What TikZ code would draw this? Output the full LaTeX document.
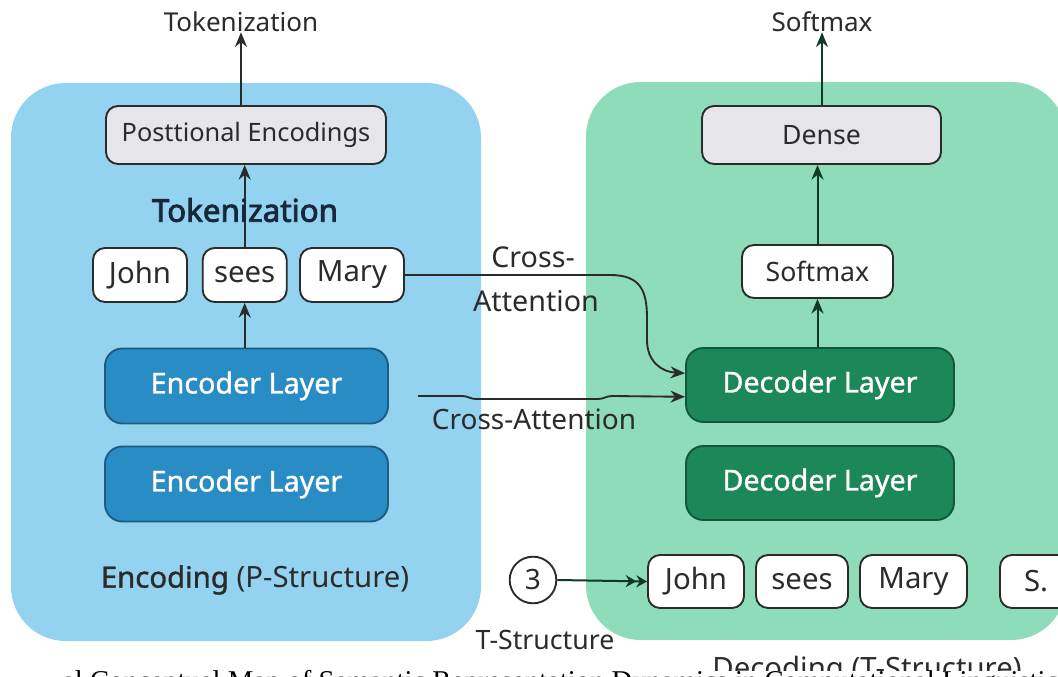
\documentclass[tikz,border=0pt]{standalone}
\usepackage{fontspec}
\setmainfont{Noto Sans}
\newfontfamily\capfont{Liberation Serif}
\newfontfamily\medfont{Noto Sans}[FakeBold=1.2]
\newfontfamily\heavyfont{Noto Sans}[FakeBold=2.6]
\usetikzlibrary{arrows.meta}
\definecolor{bluepanel}{HTML}{93D3F0}
\definecolor{greenpanel}{HTML}{8EDCB9}
\definecolor{encfill}{HTML}{2A8CC4}
\definecolor{encline}{HTML}{1D5C80}
\definecolor{decfill}{HTML}{1C8757}
\definecolor{decline}{HTML}{12573A}
\definecolor{grayfill}{HTML}{E6E6EA}
\definecolor{ink}{HTML}{2B2B2B}
\definecolor{navy}{HTML}{17283A}
\definecolor{darkgreen}{HTML}{0E3B27}
\begin{document}
\begin{tikzpicture}[x=0.75pt,y=-0.75pt,
  txt/.style={font=\fontsize{20}{24}\selectfont, text=ink, inner sep=0pt},
  graybox/.style={draw=ink, line width=1.4pt, fill=grayfill, rounded corners=9pt, minimum height=43.5pt, inner sep=0pt, font=\fontsize{19}{23}\selectfont, text=ink},
  token/.style={draw=ink, line width=1.4pt, fill=white, rounded corners=9pt, minimum height=40.5pt, inner sep=0pt, font=\fontsize{22}{26}\selectfont, text=ink},
  enclayer/.style={draw=encline, line width=1.4pt, fill=encfill, rounded corners=13pt, minimum width=212.25pt, minimum height=56.25pt, inner sep=0pt, font=\medfont\fontsize{21.5}{25}\selectfont, text=white},
  declayer/.style={draw=decline, line width=1.4pt, fill=decfill, rounded corners=13pt, minimum width=201pt, minimum height=55.5pt, inner sep=0pt, font=\medfont\fontsize{21.5}{25}\selectfont, text=white},
  arr/.style={draw=ink, line width=1.5pt, -{Stealth[length=11pt,width=9pt]}},
  garr/.style={draw=darkgreen, line width=1.5pt, -{Stealth[length=11pt,width=9pt]}}
]
\useasboundingbox (0,0) rectangle (1058,677);
\fill[white] (0,0) rectangle (1058,677);

% panels
\fill[bluepanel, rounded corners=41pt] (11,83) rectangle (481,641);
\fill[greenpanel, rounded corners=41pt] (586,82) rectangle (1066,640);

% encoder side
\node[txt, font=\fontsize{19.5}{23}\selectfont] (toktop) at (241,22) {Tokenization};
\node[graybox, minimum width=210pt] (posenc) at (246,135) {Posttional Encodings};
\node[token, minimum width=70.5pt] (john1) at (140,275) {John};
\node[token, minimum width=63pt] (sees1) at (244.7,275) {sees};
\node[token, minimum width=78pt] (mary1) at (352,275) {Mary};
\node[enclayer] (enc1) at (246.5,386) {Encoder Layer};
\node[enclayer] (enc2) at (246.5,484) {Encoder Layer};
\node[txt, font=\fontsize{22}{26}\selectfont] (enclabel) at (255,580) {\medfont Encoding\normalfont{} (P-Structure)};

\draw[arr] (posenc.north -| toktop) -- (toktop.south);
\draw[arr] (sees1.north) -- (posenc.south -| sees1.north);
\node[inner sep=0pt, font=\heavyfont\fontsize{23.5}{28}\selectfont, text=navy] (tokmid) at (245,210) {Tokenization};
\draw[arr] (enc1.north -| sees1.south) -- (sees1.south);

% decoder side
\node[txt, font=\fontsize{19.5}{23}\selectfont] (softtop) at (822,22) {Softmax};
\node[graybox, minimum width=179.25pt, font=\fontsize{20}{24}\selectfont] (dense) at (821.5,135) {Dense};
\node[token, minimum width=113.25pt, minimum height=39.75pt, font=\fontsize{20}{24}\selectfont] (softmax) at (817.5,271.5) {Softmax};
\node[declayer] (dec1) at (820,385) {Decoder Layer};
\node[declayer] (dec2) at (820,483) {Decoder Layer};

\draw[garr] (dense.north -| softtop) -- (softtop.south);
\draw[garr] (softmax.north) -- (dense.south -| softmax.north);
\draw[garr] (dec1.north -| softmax.south) -- (softmax.south);

% bottom tokens
\node[token, minimum width=72pt, minimum height=39.75pt] (john2) at (696,581.5) {John};
\node[token, minimum width=69pt, minimum height=39.75pt] (sees2) at (802,581.5) {sees};
\node[token, minimum width=80.25pt, minimum height=39.75pt] (mary2) at (913.5,581.5) {Mary};
\node[token, minimum width=54pt, minimum height=39.75pt] (s2) at (1036,581.5) {S.};
\node[draw=ink, line width=1.4pt, circle, minimum size=35pt, inner sep=0pt, font=\fontsize{21}{25}\selectfont, text=ink] (three) at (533,580) {3};
\draw[draw=darkgreen, line width=1.5pt, -{Stealth[length=8pt,width=9pt] Stealth[length=8pt,width=9pt]}] (three.east) -- (john2.west);
\node[txt] (tstruct) at (545,640) {T-Structure};

% cross attention
\node[txt, font=\fontsize{21.5}{25}\selectfont] (ca1a) at (533,257) {Cross-};
\node[txt, font=\fontsize{21.5}{25}\selectfont] (ca1b) at (536,301) {Attention};
\draw[draw=ink, line width=1.4pt, -{Stealth[length=11pt,width=9pt]}]
  (mary1.east) -- (610,275) .. controls (640,275) and (647,290) .. (647,318)
  -- (647,340) .. controls (647,362) and (662,372) .. (dec1.175.5);
\coordinate (ca2s) at (418,396);
\draw[draw=ink, line width=1.4pt, -{Stealth[length=11pt,width=9pt]}]
  (ca2s) -- (462,396) .. controls (468,396) and (470,399) .. (476,399)
  -- (598,399) .. controls (604,399) and (606,396) .. (612,396) -- (dec1.185);
\node[txt, font=\fontsize{21}{25}\selectfont] (ca2) at (534,419) {Cross-Attention};

% clipped bottom texts
\begin{scope}
\clip (0,0) rectangle (1058,670);
\node[txt, font=\fontsize{22}{26}\selectfont] (declabel) at (867,671) {Decoding (T-Structure)};
\end{scope}
\node[anchor=base west, inner sep=0pt, font=\capfont\fontsize{21.5}{25}\selectfont, text=black] (caption) at (62,690) {al Conceptual Map of Semantic Representation Dynamics in Computational Linguistics};
\end{tikzpicture}
\end{document}
